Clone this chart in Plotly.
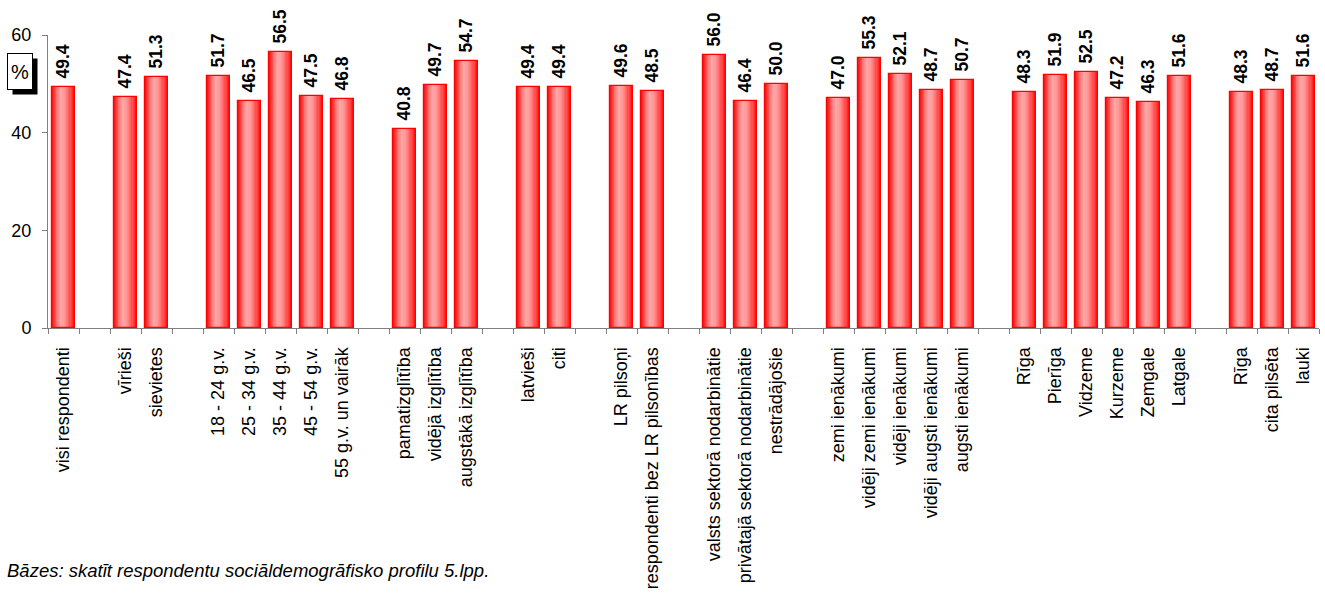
import plotly.graph_objects as go

# ---- data ----
group_labels = [
    ["visi respondenti"],
    ["vīrieši", "sievietes"],
    ["18 - 24 g.v.", "25 - 34 g.v.", "35 - 44 g.v.", "45 - 54 g.v.", "55 g.v. un vairāk"],
    ["pamatizglītība", "vidējā izglītība", "augstākā izglītība"],
    ["latvieši", "citi"],
    ["LR pilsoņi", "respondenti bez LR pilsonības"],
    ["valsts sektorā nodarbinātie", "privātajā sektorā nodarbinātie", "nestrādājošie"],
    ["zemi ienākumi", "vidēji zemi ienākumi", "vidēji ienākumi", "vidēji augsti ienākumi", "augsti ienākumi"],
    ["Rīga", "Pierīga", "Vidzeme", "Kurzeme", "Zemgale", "Latgale"],
    ["Rīga", "cita pilsēta", "lauki"],
]
group_values = [
    [49.4],
    [47.4, 51.3],
    [51.7, 46.5, 56.5, 47.5, 46.8],
    [40.8, 49.7, 54.7],
    [49.4, 49.4],
    [49.6, 48.5],
    [56.0, 46.4, 50.0],
    [47.0, 55.3, 52.1, 48.7, 50.7],
    [48.3, 51.9, 52.5, 47.2, 46.3, 51.6],
    [48.3, 48.7, 51.6],
]
y_ticks = [0, 20, 40, 60]
footnote = "Bāzes: skatīt respondentu sociāldemogrāfisko profilu 5.lpp."
unit_label = "%"

# ---- slot positions (one empty slot between groups) ----
xs, labels, values = [], [], []
slot = 0
for gi, (labs, vals) in enumerate(zip(group_labels, group_values)):
    if gi > 0:
        slot += 1
    for l, v in zip(labs, vals):
        xs.append(slot)
        labels.append(l)
        values.append(v)
        slot += 1
n_slots = slot

BAR_W = 0.77
FONT = "Liberation Sans, Arial, sans-serif"

fig = go.Figure()

# gradient imitation: nested bars, lightest around 40% from left edge
N = 12
peak = 0.40
red = (255, 0, 0)
pink = (255, 168, 168)
for k in range(N):
    s = 1 - k / N
    left = peak - s * peak
    right = peak + s * (1 - peak)
    f = 0.0 if k == 0 else 1 - s ** 1.6
    col = tuple(int(round(red[i] + (pink[i] - red[i]) * f)) for i in range(3))
    fig.add_trace(go.Bar(
        x=xs, y=values,
        width=(right - left) * BAR_W,
        offset=(left - 0.5) * BAR_W,
        marker=dict(color="rgb(%d,%d,%d)" % col, line=dict(width=0)),
        hoverinfo="skip", showlegend=False,
    ))

# outline + value labels
fig.add_trace(go.Bar(
    x=xs, y=values, width=BAR_W,
    marker=dict(color="rgba(0,0,0,0)", line=dict(color="#FF0000", width=1.2)),
    text=values, texttemplate="\u00a0%{y:.1f}", textposition="outside",
    textangle=-90, cliponaxis=False, constraintext="none",
    textfont=dict(family=FONT, size=17.5, color="black", weight="bold"),
    showlegend=False,
))

fig.update_layout(
    width=1325, height=594,
    margin=dict(l=48, r=6, t=35, b=266),
    barmode="overlay",
    plot_bgcolor="white", paper_bgcolor="white",
    font=dict(family=FONT, size=17, color="black"),
    xaxis=dict(
        range=[-0.5, n_slots - 0.5],
        tickmode="array", tickvals=xs, ticktext=labels,
        tickangle=-90,
        ticks="outside", ticklen=11, tickcolor="rgba(0,0,0,0)",
        showline=True, linecolor="#808080", linewidth=1,
        showgrid=False, zeroline=False,
        tickfont=dict(family=FONT, size=18),
        minor=dict(ticks="outside", tickmode="linear", tick0=-0.5, dtick=1,
                   ticklen=5, tickcolor="#808080", showgrid=False),
    ),
    yaxis=dict(
        range=[0, 60], tickmode="array", tickvals=y_ticks,
        ticks="outside", ticklen=5, tickcolor="#808080",
        showline=True, linecolor="#808080", linewidth=1,
        showgrid=False, zeroline=False, ticklabelstandoff=7,
        tickfont=dict(family=FONT, size=18),
    ),
    bargap=0,
)

# "%" label box with shadow
fig.add_annotation(xref="paper", yref="paper", x=-0.0323, y=0.9386,
                   xanchor="left", yanchor="top", text=" ", showarrow=False,
                   width=24, height=35, bgcolor="black", borderpad=0,
                   xshift=5, yshift=-5)
fig.add_annotation(xref="paper", yref="paper", x=-0.0323, y=0.9386,
                   xanchor="left", yanchor="top", text=unit_label, showarrow=False,
                   width=24, height=35, bgcolor="white", bordercolor="black",
                   borderwidth=1, borderpad=0,
                   font=dict(family=FONT, size=20, color="black"))

# footnote
fig.add_annotation(xref="paper", yref="paper", x=-0.0338, y=-0.826,
                   xanchor="left", yanchor="middle", text=footnote, showarrow=False,
                   font=dict(family=FONT, size=18.5, color="black", style="italic"))

fig.write_html("out.html")
